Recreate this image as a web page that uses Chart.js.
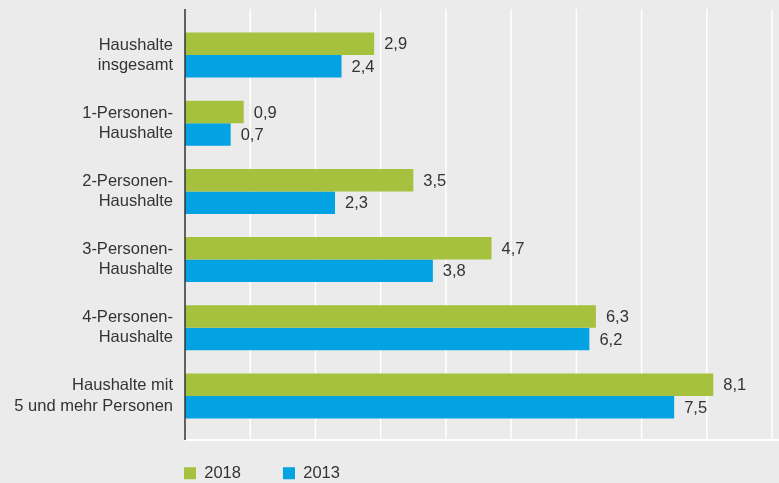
<!DOCTYPE html>
<html>
<head>
<meta charset="utf-8">
<script src="https://cdn.jsdelivr.net/npm/chart.js@4/dist/chart.umd.min.js"></script>
<style>
  html, body { margin: 0; padding: 0; background: #ebebeb; }
  #wrap { width: 779px; height: 483px; }
</style>
</head>
<body>
<div id="wrap"><canvas id="c" width="779" height="483"></canvas></div>
<script>
const categories = [
  ['Haushalte', 'insgesamt'],
  ['1-Personen-', 'Haushalte'],
  ['2-Personen-', 'Haushalte'],
  ['3-Personen-', 'Haushalte'],
  ['4-Personen-', 'Haushalte'],
  ['Haushalte mit', '5 und mehr Personen']
];
const seriesNames = ['2018', '2013'];
const values2018 = [2.9, 0.9, 3.5, 4.7, 6.3, 8.1];
const values2013 = [2.4, 0.7, 2.3, 3.8, 6.2, 7.5];
const xMin = 0, xMax = 9, xStep = 1;

const TEXT = '#333333';
const FONT = 'Liberation Sans, Arial, Helvetica, sans-serif';

const bgPlugin = {
  id: 'bg',
  beforeDraw(chart) {
    const ctx = chart.ctx;
    ctx.save();
    ctx.fillStyle = '#ebebeb';
    ctx.fillRect(0, 0, chart.width, chart.height);
    ctx.restore();
  }
};

const gridPlugin = {
  id: 'gridExt',
  beforeDatasetsDraw(chart) {
    const { ctx, chartArea, scales } = chart;
    const x = scales.x;
    const top = chartArea.top - 12, bottom = chartArea.bottom + 10;
    ctx.save();
    ctx.strokeStyle = '#ffffff';
    ctx.lineWidth = 1.5;
    for (let v = xMin + xStep; v <= xMax + 1e-9; v += xStep) {
      const px = x.getPixelForValue(v);
      ctx.beginPath();
      ctx.moveTo(px, top);
      ctx.lineTo(px, bottom);
      ctx.stroke();
    }
    ctx.lineWidth = 2;
    ctx.beginPath();
    ctx.moveTo(chartArea.left, bottom);
    ctx.lineTo(chart.width, bottom);
    ctx.stroke();
    ctx.restore();
  },
  afterDatasetsDraw(chart) {
    const { ctx, chartArea, scales } = chart;
    const x = scales.x;
    const top = chartArea.top - 12, bottom = chartArea.bottom + 10;
    ctx.save();
    ctx.strokeStyle = '#333333';
    ctx.lineWidth = 1.5;
    const px = x.getPixelForValue(0);
    ctx.beginPath();
    ctx.moveTo(px, top);
    ctx.lineTo(px, bottom);
    ctx.stroke();
    // value labels
    ctx.fillStyle = TEXT;
    ctx.font = '16.5px ' + FONT;
    ctx.textAlign = 'left';
    ctx.textBaseline = 'middle';
    chart.data.datasets.forEach((ds, di) => {
      const meta = chart.getDatasetMeta(di);
      meta.data.forEach((bar, i) => {
        const txt = String(ds.data[i]).replace('.', ',');
        ctx.fillText(txt, bar.x + 10, bar.y + 1);
      });
    });
    ctx.restore();
  }
};

const legendPos = {
  id: 'legendPos',
  afterLayout(chart) {
    const lg = chart.legend;
    if (!lg) return;
    const pad = lg.options.labels.padding;
    lg.left = chart.chartArea.left - 1 - pad;
    lg.right = lg.left + lg.width;
    lg.top = chart.chartArea.bottom + 35 - pad;
    lg.bottom = chart.height;
    lg.height = lg.bottom - lg.top;
  }
};

new Chart(document.getElementById('c'), {
  type: 'bar',
  data: {
    labels: categories,
    datasets: [
      { label: seriesNames[0], data: values2018, backgroundColor: '#a6c13e', borderWidth: 0 },
      { label: seriesNames[1], data: values2013, backgroundColor: '#02a2e3', borderWidth: 0 }
    ]
  },
  options: {
    indexAxis: 'y',
    responsive: false,
    animation: false,
    categoryPercentage: 0.66,
    barPercentage: 1.0,
    layout: { padding: { top: 21, right: 7, bottom: 0, left: 0 } },
    scales: {
      x: {
        display: false,
        min: xMin,
        max: xMax,
        ticks: { stepSize: xStep }
      },
      y: {
        grid: { display: false, drawTicks: false },
        border: { display: false },
        ticks: {
          color: TEXT,
          padding: 12,
          font: { family: FONT, size: 16.5, lineHeight: 1.22 }
        },
        afterFit(scale) {
          scale.width = 185;
          scale.paddingTop = 0;
          scale.paddingBottom = 0;
        }
      }
    },
    plugins: {
      tooltip: { enabled: false },
      legend: {
        position: 'bottom',
        align: 'start',
        fullSize: false,
        maxHeight: 53,
        labels: {
          boxWidth: 12,
          boxHeight: 12,
          padding: 42,
          color: TEXT,
          font: { family: FONT, size: 16.5 }
        }
      }
    }
  },
  plugins: [bgPlugin, gridPlugin, legendPos]
});
</script>
</body>
</html>
